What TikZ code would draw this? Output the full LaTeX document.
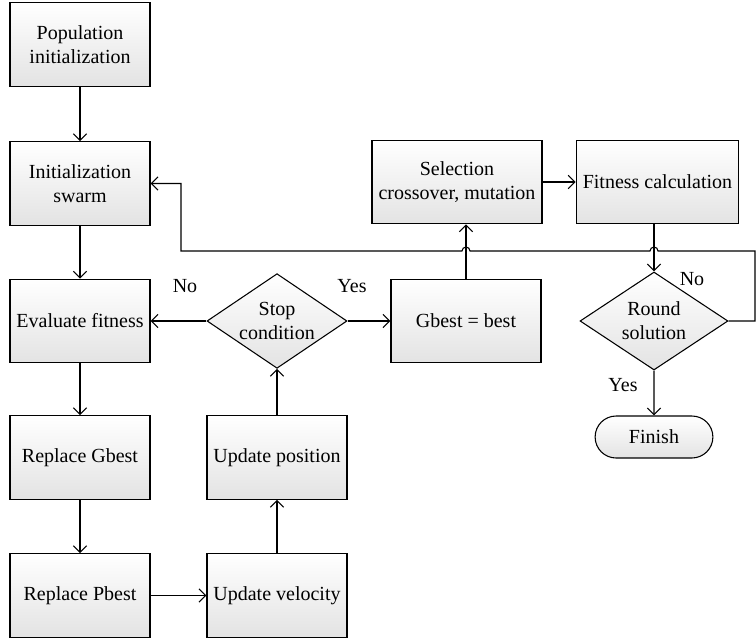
\documentclass[tikz,border=0pt]{standalone}
\usepackage{fontspec}
\setmainfont{Liberation Serif}
\usetikzlibrary{shapes.geometric, shapes.misc, arrows.meta}

\begin{document}
\begin{tikzpicture}[x=0.75pt, y=0.75pt, >={Straight Barb[length=5pt, width=10pt]},
  font=\fontsize{15}{18}\selectfont,
  box/.style={draw, line width=0.9pt, top color=white, bottom color=gray!22,
    align=center, minimum width=105pt, minimum height=62.5pt, inner sep=1pt},
  decision/.style={draw, diamond, line width=0.8pt, top color=white, bottom color=gray!22,
    align=center, aspect=1.45, inner sep=0pt, minimum width=105pt, minimum height=71pt},
  term/.style={draw, rounded rectangle, line width=0.8pt, top color=white, bottom color=gray!22,
    minimum width=95pt, minimum height=31.5pt},
  flow/.style={->, line width=0.8pt}]
  \useasboundingbox (0,0) rectangle (756,640);

  % Left column
  \node[box] (pop) at (80,595.5) {Population\\initialization};
  \node[box] (init) at (80,456.5) {Initialization\\swarm};
  \node[box] (eval) at (80,319) {Evaluate fitness};
  \node[box] (repG) at (80,182.5) {Replace Gbest};
  \node[box] (repP) at (80,44.5) {Replace Pbest};

  % Middle column
  \node[box] (updV) at (277,44.5) {Update velocity};
  \node[box] (updP) at (277,182.5) {Update position};
  \node[decision] (stop) at (277,319) {Stop\\condition};

  % Right part
  \node[box, minimum width=112.5pt] (gbest) at (466,319) {Gbest = best};
  \node[box, minimum width=127.5pt] (sel) at (457,458) {Selection\\crossover, mutation};
  \node[box, minimum width=122pt] (fit) at (657.5,458) {Fitness calculation};
  \node[decision, minimum width=111pt, minimum height=73.5pt] (round) at (654,319) {Round\\solution};
  \node[term] (finish) at (654,203) {Finish};

  % Branch labels
  \node (noL) at (185,354) {No};
  \node (yesL) at (352,354) {Yes};
  \node (noR) at (692,361) {No};
  \node (yesR) at (623,255) {Yes};

  % Main flow
  \draw[flow] (pop) -- (init);
  \draw[flow] (init) -- (eval);
  \draw[flow] (eval) -- (repG);
  \draw[flow] (repG) -- (repP);
  \draw[flow] (repP) -- (updV);
  \draw[flow] (updV) -- (updP);
  \draw[flow] (updP) -- (stop.south);
  \draw[flow] (stop.west) -- (eval);
  \draw[flow] (stop.east) -- (gbest);
  \draw[flow] (gbest.north) -- (gbest.north |- sel.south);
  \draw[flow] (sel) -- (fit);
  \draw[flow] (fit.south -| round.north) -- (round.north);
  \draw[flow] (round.south) -- (finish);

  % Loop back with line jumps
  \coordinate (loopR) at (755,389);
  \coordinate (loopL) at (181,389);
  \coordinate (jumpA) at (round.north |- loopR);
  \coordinate (jumpB) at (gbest.north |- loopR);
  \draw[flow] (round.east) -| (loopR) -- ([xshift=3pt]jumpA)
    arc[start angle=0, end angle=180, radius=3pt] -- ([xshift=3pt]jumpB)
    arc[start angle=0, end angle=180, radius=3pt] -- (loopL) |- (init.east);
\end{tikzpicture}
\end{document}
